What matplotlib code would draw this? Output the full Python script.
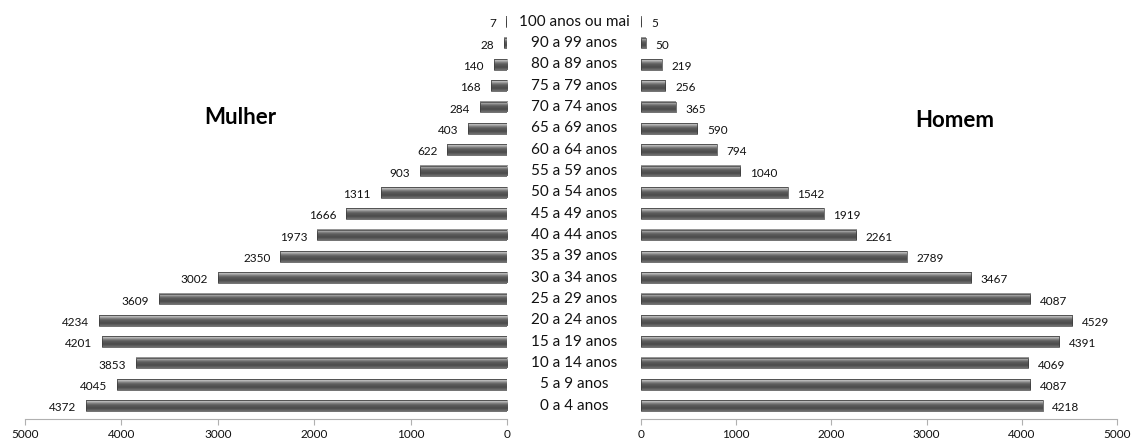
import numpy as np
import matplotlib
matplotlib.use("Agg")
import matplotlib.pyplot as plt
from matplotlib.colors import LinearSegmentedColormap

plt.rcParams['font.family'] = ['Lato', 'DejaVu Sans']

categorias = ["0 a 4 anos", "5 a 9 anos", "10 a 14 anos", "15 a 19 anos",
              "20 a 24 anos", "25 a 29 anos", "30 a 34 anos", "35 a 39 anos",
              "40 a 44 anos", "45 a 49 anos", "50 a 54 anos", "55 a 59 anos",
              "60 a 64 anos", "65 a 69 anos", "70 a 74 anos", "75 a 79 anos",
              "80 a 89 anos", "90 a 99 anos", "100 anos ou mai"]
mulher = [4372, 4045, 3853, 4201, 4234, 3609, 3002, 2350, 1973, 1666,
          1311, 903, 622, 403, 284, 168, 140, 28, 7]
homem = [4218, 4087, 4069, 4391, 4529, 4087, 3467, 2789, 2261, 1919,
         1542, 1040, 794, 590, 365, 256, 219, 50, 5]
ticks = [0, 1000, 2000, 3000, 4000, 5000]

# cylinder-like shading for the bars (row 0 = bottom edge)
shade = LinearSegmentedColormap.from_list(
    "shade", [(0.0, "#707070"), (0.25, "#4a4a4a"), (0.55, "#5e5e5e"),
              (0.75, "#8e8e8e"), (0.88, "#c8c8c8"), (1.0, "#7c7c7c")])
grad = np.linspace(0, 1, 64).reshape(-1, 1)

fig = plt.figure(figsize=(11.37, 4.41), dpi=100)
ax_l = fig.add_axes([25 / 1137, 22 / 441, 482 / 1137, 408 / 441])
ax_r = fig.add_axes([641 / 1137, 22 / 441, 476 / 1137, 408 / 441])

y = np.arange(len(categorias))
h = 0.5


def draw_bars(ax, vals, side):
    for yi, v in zip(y, vals):
        ax.imshow(grad, cmap=shade, aspect="auto", origin="lower",
                  extent=(0, v, yi - h / 2, yi + h / 2), zorder=2,
                  interpolation="bilinear")
        ax.barh(yi, v, height=h, color="none", edgecolor="#3a3a3a",
                linewidth=0.5, zorder=3)
        if side == "left":
            ax.annotate(str(v), (v, yi), xytext=(-7, -1.5), textcoords="offset points",
                        ha="right", va="center", fontsize=8.5, color="#111111")
        else:
            ax.annotate(str(v), (v, yi), xytext=(7, -1.5), textcoords="offset points",
                        ha="left", va="center", fontsize=8.5, color="#111111")


draw_bars(ax_l, mulher, "left")
draw_bars(ax_r, homem, "right")

for ax in (ax_l, ax_r):
    ax.set_ylim(-0.62, 18.5)
    ax.set_xlim(0, 5000)
    ax.set_xticks(ticks)
    ax.set_xticklabels([str(t) for t in ticks], fontsize=8.5)
    ax.set_yticks([])
    for s in ("top", "left", "right"):
        ax.spines[s].set_visible(False)
    ax.spines["bottom"].set_color("#b0b0b0")
    ax.tick_params(axis="x", direction="out", length=4, color="#b0b0b0",
                   pad=3, labelcolor="#111111")
    ax.set_facecolor("none")

ax_l.invert_xaxis()

# age group labels in the gap between the two halves
for yi, c in zip(y, categorias):
    ax_r.annotate(c, xy=(0, yi), xycoords=("axes fraction", "data"),
                  xytext=(-67, 0), textcoords="offset pixels",
                  ha="center", va="center", fontsize=11, color="#111111")

fig.text(240 / 1137, 1 - 118 / 441, "Mulher", ha="center", va="center",
         fontsize=16, fontweight="bold")
fig.text(955 / 1137, 1 - 120 / 441, "Homem", ha="center", va="center",
         fontsize=16, fontweight="bold")

fig.savefig("out.png", dpi=100)
